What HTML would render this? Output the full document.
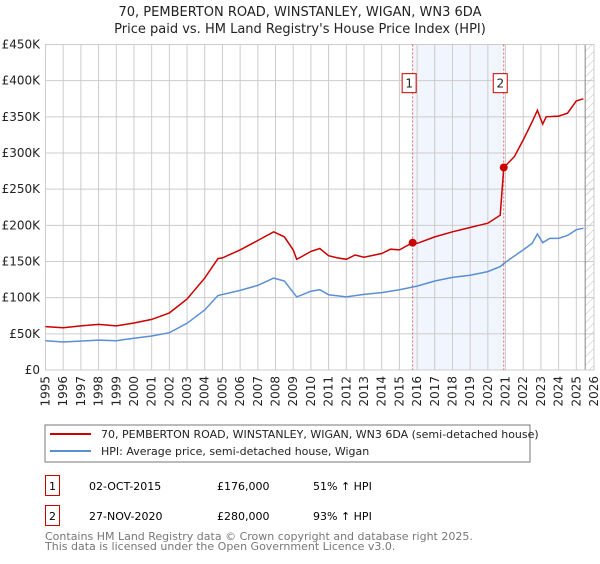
<!DOCTYPE html>
<html><head><meta charset="utf-8"><style>
body{margin:0;background:#fff;width:600px;height:560px;overflow:hidden;font-family:"DejaVu Sans","Liberation Sans",sans-serif}
svg text{font-family:"DejaVu Sans","Liberation Sans",sans-serif}
</style></head><body>
<svg id="c" width="600" height="560">
<text x="300" y="16" text-anchor="middle" font-size="13" fill="#222">70, PEMBERTON ROAD, WINSTANLEY, WIGAN, WN3 6DA</text>
<text x="300" y="33" text-anchor="middle" font-size="13" fill="#222">Price paid vs. HM Land Registry's House Price Index (HPI)</text>
<defs><pattern id="h" width="6" height="6" patternUnits="userSpaceOnUse" patternTransform="rotate(45)"><line x1="0" y1="0" x2="0" y2="6" stroke="#bbb" stroke-width="1"/></pattern></defs>
<g id="grid"></g><g id="marks"></g>
<rect x="45" y="425" width="485" height="37" fill="#fff" stroke="#777"/>
<line x1="50" y1="434" x2="91" y2="434" stroke="#cc0000" stroke-width="2"/>
<text x="101" y="438" font-size="11" fill="#222">70, PEMBERTON ROAD, WINSTANLEY, WIGAN, WN3 6DA (semi-detached house)</text>
<line x1="50" y1="451" x2="91" y2="451" stroke="#5b8fd4" stroke-width="2"/>
<text x="101" y="455" font-size="11" fill="#222">HPI: Average price, semi-detached house, Wigan</text>
<g>
<rect x="45.5" y="475.5" width="14" height="20" fill="#fff" stroke="#cc0000"/>
<text x="52.5" y="490" font-size="11" text-anchor="middle">1</text>
<text x="89" y="490" font-size="11">02-OCT-2015</text>
<text x="217" y="490" font-size="11">£176,000</text>
<text x="313" y="490" font-size="11">51% ↑ HPI</text></g>
<g>
<rect x="45.5" y="505.5" width="14" height="20" fill="#fff" stroke="#cc0000"/>
<text x="52.5" y="520" font-size="11" text-anchor="middle">2</text>
<text x="89" y="520" font-size="11">27-NOV-2020</text>
<text x="217" y="520" font-size="11">£280,000</text>
<text x="313" y="520" font-size="11">93% ↑ HPI</text></g>
<text x="45" y="540" font-size="11" fill="#777">Contains HM Land Registry data © Crown copyright and database right 2025.</text>
<text x="45" y="550" font-size="11" fill="#777">This data is licensed under the Open Government Licence v3.0.</text>
</svg>
<script>
const redYears=[1995,1996,1997,1998,1999,2000,2001,2002,2003,2004,2004.75,2005,2006,2007,2007.9,2008.5,2009,2009.2,2009.5,2010,2010.5,2011,2011.5,2012,2012.5,2013,2014,2014.5,2015,2015.75,2016,2017,2018,2019,2019.5,2020,2020.7,2020.9,2021.5,2022,2022.5,2022.8,2023.1,2023.3,2024,2024.5,2025,2025.4];
const redVals=[60,58.5,61,63,61,65,70,79,98,127,154,155,166,179,191,184,166,153,157,164,168,158,155,153,159,156,161,167,166,176,175,184,191,197,200,203,214,280,295,318,343,359,340,350,351,355,372,375];
const blueYears=[1995,1996,1998,1999,2000,2001,2002,2003,2004,2004.75,2006,2007,2007.9,2008.5,2009.2,2009.5,2010,2010.5,2011,2012,2013,2014,2015,2016,2017,2018,2019,2020,2020.7,2021,2022,2022.5,2022.8,2023.1,2023.5,2024,2024.5,2025,2025.4];
const blueVals=[40.5,38.7,41.4,40.5,44,47,51.6,64.5,83,103,110,117,127,123,101,104,109,111,104,101,104.5,107,111,116,123,128,131,136,143,149,166,175,188,176,182,182,186,194,196];
const saleYears=[2015.75,2020.9];
const saleVals=[176,280];
const saleLabels=["1","2"];
const yTicks=[0,50,100,150,200,250,300,350,400,450];
const yTickLabels=["£0","£50K","£100K","£150K","£200K","£250K","£300K","£350K","£400K","£450K"];
const xTicks=[1995,1996,1997,1998,1999,2000,2001,2002,2003,2004,2005,2006,2007,2008,2009,2010,2011,2012,2013,2014,2015,2016,2017,2018,2019,2020,2021,2022,2023,2024,2025,2026];

const X0=45.5,X1=594,Y0=370,Y1=44.5;
const xs=y=>X0+(y-1995)/(2026-1995)*(X1-X0);
const ys=v=>Y0-v/450*(Y0-Y1);
const NS="http://www.w3.org/2000/svg";
function mk(tag,attrs,parent){const e=document.createElementNS(NS,tag);for(const k in attrs)e.setAttribute(k,attrs[k]);parent.appendChild(e);return e;}
const g=document.getElementById('grid'),m=document.getElementById('marks');
let sh=mk('rect',{x:xs(saleYears[0]),y:Y1,width:xs(saleYears[1])-xs(saleYears[0]),height:Y0-Y1,fill:'#eef3fc',opacity:0.8},g);


yTicks.forEach((t,i)=>{
 let l=mk('line',{x1:X0,x2:X1,y1:ys(t),y2:ys(t),stroke:'#ccc','stroke-width':1},g);
 
 
 let tx=mk('text',{x:40,y:ys(t)+4,'text-anchor':'end','font-size':12,fill:'#222'},g);tx.textContent=yTickLabels[i];
 
 
});
xTicks.forEach(t=>{
 let l=mk('line',{x1:xs(t),x2:xs(t),y1:Y1,y2:Y0,stroke:'#ccc','stroke-width':1},g);
 
 
 let tx=mk('text',{x:0,y:0,'text-anchor':'end','font-size':12,fill:'#222',transform:`translate(${xs(t)+4},${Y0+6}) rotate(-90)`},g);tx.textContent=t;
 
 
});
let hx=xs(2025.5);
let ht=mk('rect',{x:hx,y:Y1,width:X1-hx,height:Y0-Y1,fill:'url(#h)'},g);


mk('line',{x1:hx,x2:hx,y1:Y1,y2:Y0,stroke:'#888'},g);
let fr=mk('rect',{x:X0,y:Y1,width:X1-X0,height:Y0-Y1,fill:'none',stroke:'#ccc'},g);


saleYears.forEach((s,i)=>{
 let l=mk('line',{x1:xs(s),x2:xs(s),y1:Y1,y2:Y0,stroke:'#e06060','stroke-dasharray':'2,2'},m);
 
 
 let bx=xs(s)-11, by=ys(400)-7;
 let r=mk('rect',{x:bx+0.5,y:by,width:14,height:19,fill:'#fff',stroke:'#cc0000'},m);
 
 
 let t=mk('text',{x:bx+7.5,y:by+14,'text-anchor':'middle','font-size':12,fill:'#222'},m);t.textContent=saleLabels[i];
});
const pts=(a,b)=>a.map((y,i)=>xs(y).toFixed(1)+','+ys(b[i]).toFixed(1)).join(' ');
let bl=mk('polyline',{points:pts(blueYears,blueVals),fill:'none',stroke:'#5b8fd4','stroke-width':1.5},m);


let rl=mk('polyline',{points:pts(redYears,redVals),fill:'none',stroke:'#cc0000','stroke-width':1.5},m);


saleYears.forEach((s,i)=>{
 let c=mk('circle',{cx:xs(s),cy:ys(saleVals[i]),r:4,fill:'#cc0000'},m);
 
 
});
</script>
</body></html>
